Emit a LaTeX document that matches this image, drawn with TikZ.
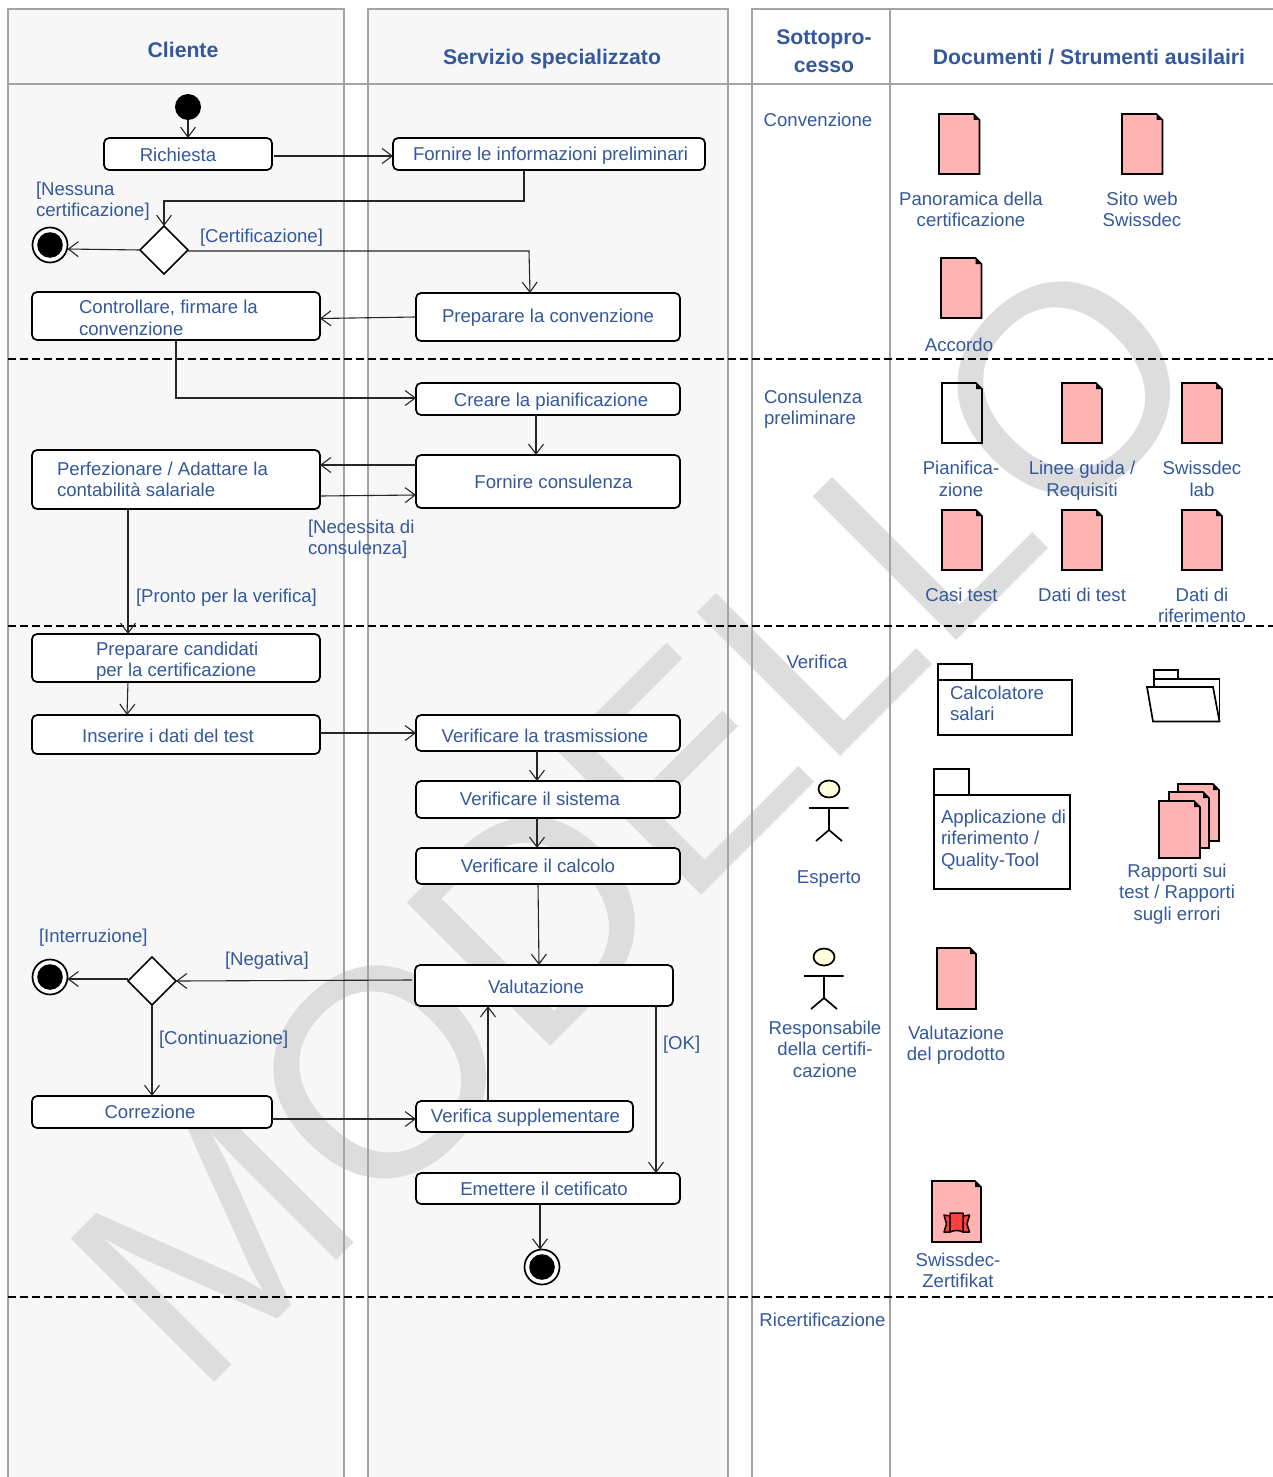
\documentclass[tikz,border=0pt]{standalone}
\usepackage{fontspec}
\setmainfont{Liberation Sans}
\usetikzlibrary{arrows.meta,shapes.geometric}
\definecolor{lanebg}{HTML}{F7F7F7}
\definecolor{laneline}{HTML}{A3A3A3}
\definecolor{wmgray}{HTML}{DDDDDD}
\definecolor{txtblue}{HTML}{34589C}
\definecolor{docpink}{HTML}{FFB3B3}
\definecolor{actorhead}{HTML}{FFFFDD}
\definecolor{ribbonred}{HTML}{FF4040}
% text placed with its first baseline at an exact offset from the node centre
\newcommand\placed[4]{\raisebox{#2pt}[0pt][0pt]{\makebox[0pt][l]{\hspace{#1pt}\makebox[0pt][#3]{\begin{tabular}[t]{@{}#3@{}}#4\end{tabular}}}}}
\newcommand\actbox[9]{%
  \pgfmathsetmacro\bcx{(#2+#4)/2}\pgfmathsetmacro\bcy{(#3+#5)/2}%
  \pgfmathsetmacro\bw{#4-#2}\pgfmathsetmacro\bh{#5-#3}%
  \pgfmathsetmacro\bdx{#6-\bcx}\pgfmathsetmacro\bdy{\bcy-#7}%
  \node[activity,minimum width=\bw pt,minimum height=\bh pt] (#1) at (\bcx,\bcy) {\placed{\bdx}{\bdy}{#8}{#9}};}
\newcommand\txt[5]{\node[label text] (#1) at (#2,#3) {\placed{0}{0}{#4}{#5}};}
\newcommand\hdr[5]{\node[label text,header text] (#1) at (#2,#3) {\placed{0}{0}{#4}{#5}};}
\newcommand\docicon[6][docpink]{% x1 y1 x2 y2
  \draw[icon,fill=#1] (#2,#3) -- (#4-6,#3) -- (#4,#3+6) -- (#4,#5) -- (#2,#5) -- cycle;
  \fill (#4-6,#3) -- (#4,#3+6) -- (#4-6,#3+6) -- cycle;\path (#2,#3) coordinate (#6);}
\newcommand\actor[2]{%
  \draw[icon] (#1,#2+19) -- (#1,#2+41) (#1-20,#2+19) -- (#1+19.5,#2+19)
     (#1-13,#2+52) -- (#1,#2+41) -- (#1+13,#2+52);
  \draw[icon,fill=actorhead] (#1,#2) ellipse [x radius=10.5,y radius=8.5];}
\tikzset{
  x=1pt,y=-1pt,
  lane/.style={fill=lanebg,draw=none},
  laneborder/.style={draw=laneline,line width=1.3pt},
  phase/.style={draw=black,line width=1.7pt,dash pattern=on 7.5pt off 4.5pt},
  activity/.style={draw=black,fill=white,line width=1.7pt,rounded corners=5pt,inner sep=0pt,outer sep=0pt,text=txtblue,font=\fontsize{18.6}{21.6}\selectfont},
  label text/.style={inner sep=0pt,outer sep=0pt,text=txtblue,font=\fontsize{18.6}{21.6}\selectfont},
  header text/.style={font=\fontsize{21.2}{28}\selectfont\bfseries},
  decision/.style={diamond,draw=black,fill=white,line width=1.7pt,inner sep=0pt,outer sep=0pt,aspect=1},
  initial dot/.style={circle,fill=black,draw=none,minimum size=26pt,inner sep=0pt,outer sep=0pt},
  final dot/.style={circle,draw=black,fill=white,line width=1.7pt,minimum size=35pt,inner sep=0pt,outer sep=0pt,path picture={\fill[black] (path picture bounding box.center) circle (12.8pt);}},
  flow/.style={draw=black!85,line width=1.1pt,-{Straight Barb[length=10pt,width=15pt,line width=1.1pt]}},
  icon/.style={draw=black,line width=1.7pt,line join=miter},
  ribbon/.style={draw=black,line width=1.5pt,fill=ribbonred,line join=round},
  watermark/.style={rotate=45,anchor=base west,inner sep=0pt,text=wmgray,font=\fontsize{295}{295}\selectfont},
}
\begin{document}
\begin{tikzpicture}
\useasboundingbox (0,0) rectangle (1273,1477);
\fill[white] (0,0) rectangle (1273,1477);
% lanes
\path[lane] (8,9) rectangle (344,1477);
\path[lane] (368,9) rectangle (728,1477);
% watermark
\node[watermark] (wm) at (197.6,1399.4) {MODELLO};
% lane borders
\draw[laneborder] (8,1477) -- (8,9) -- (344,9) -- (344,1477);
\draw[laneborder] (368,1477) -- (368,9) -- (728,9) -- (728,1477);
\draw[laneborder] (752,1477) -- (752,9) -- (1273,9);
\draw[laneborder] (890,9) -- (890,1477);
\draw[laneborder] (8,84) -- (1273,84);
% phases
\draw[phase] (8,359) -- (1273,359);
\draw[phase] (8,626) -- (1273,626);
\draw[phase] (8,1297) -- (1273,1297);
% headers
\hdr{hCliente}{183}{58}{c}{Cliente}
\hdr{hServizio}{552}{65}{c}{Servizio specializzato}
\hdr{hSotto}{824}{45}{c}{Sottopro-\\cesso}
\hdr{hDoc}{1089}{65}{c}{Documenti / Strumenti ausilairi}
% activities
\actbox{rich}{104}{138}{272}{170}{178}{161}{c}{Richiesta}
\actbox{forn}{393}{138}{705}{170}{550.5}{160}{c}{Fornire le informazioni preliminari}
\actbox{contr}{32}{292}{320}{340}{79}{313.5}{l}{Controllare, firmare la\\convenzione}
\actbox{prep}{416}{293}{680}{341}{548}{322}{c}{Preparare la convenzione}
\actbox{crea}{416}{383}{680}{415}{551}{406}{c}{Creare la pianificazione}
\actbox{cons}{416}{455}{680}{508}{553.5}{488}{c}{Fornire consulenza}
\actbox{perf}{32}{450}{320}{509}{57}{475}{l}{Perfezionare / Adattare la\\contabilità salariale}
\actbox{cand}{32}{634}{320}{682}{96}{655}{l}{Preparare candidati\\per la certificazione}
\actbox{ins}{32}{715}{320}{754}{168}{742}{c}{Inserire i dati del test}
\actbox{vtra}{416}{715}{680}{751}{545}{742}{c}{Verificare la trasmissione}
\actbox{vsis}{416}{781}{680}{818}{540}{805}{c}{Verificare il sistema}
\actbox{vcal}{416}{848}{680}{884}{538}{872}{c}{Verificare il calcolo}
\actbox{val}{415}{965}{673}{1006}{536}{993}{c}{Valutazione}
\actbox{corr}{32}{1096}{272}{1128}{150}{1118}{c}{Correzione}
\actbox{vsup}{416}{1101}{633}{1132}{525.5}{1122}{c}{Verifica supplementare}
\actbox{emet}{416}{1173}{680}{1204}{544}{1195}{c}{Emettere il cetificato}
% control nodes
\node[initial dot] (init) at (188,107) {};
\node[decision,minimum size=48pt] (d1) at (164,250) {};
\node[decision,minimum size=48pt] (d2) at (152,981) {};
\node[final dot] (f1) at (50,245) {};
\node[final dot] (f2) at (50,977) {};
\node[final dot] (f3) at (542,1267) {};
% connectors
\draw[flow] (init.south) -- (rich.north);
\draw[flow] ([xshift=2pt]rich.east |- 0,156) -- (forn.west |- 0,156);
\draw[flow] (524,0 |- forn.south) -- (524,201) -- (d1.north |- 0,201) -- (d1.north);
\draw[flow] (d1.west |- 0,250) -- (f1.east |- 0,249);
\draw[flow] (d1.east |- 0,251) -- (529,251) -- (530,0 |- prep.north);
\draw[flow] (prep.west |- 0,317) -- (contr.east |- 0,318.5);
\draw[flow] (176,0 |- contr.south) -- (176,398) -- (crea.west |- 0,398);
\draw[flow] (536,0 |- crea.south) -- (536,0 |- cons.north);
\draw[flow] (cons.west |- 0,465) -- (perf.east |- 0,465);
\draw[flow] (perf.east |- 0,496) -- (cons.west |- 0,495);
\draw[flow] (128,0 |- perf.south) -- (128,0 |- cand.north);
\draw[flow] (128,0 |- cand.south) -- (127,0 |- ins.north);
\draw[flow] (ins.east |- 0,733) -- (vtra.west |- 0,733);
\draw[flow] (537,0 |- vtra.south) -- (537,0 |- vsis.north);
\draw[flow] (537,0 |- vsis.south) -- (537,0 |- vcal.north);
\draw[flow] (538,0 |- vcal.south) -- (539,0 |- val.north);
\draw[flow] ([xshift=-3pt]val.west |- 0,980) -- (d2.east);
\draw[flow] (d2.west |- 0,979) -- (f2.east |- 0,979);
\draw[flow] (d2.south) -- (d2.south |- corr.north);
\draw[flow] (corr.east |- 0,1119) -- (vsup.west |- 0,1119);
\draw[flow] (488,0 |- vsup.north) -- (488,0 |- val.south);
\draw[flow] (656,0 |- val.south) -- (656,0 |- emet.north);
\draw[flow] (540,0 |- emet.south) -- (540,0 |- f3.north);
% guard labels
\txt{gNess}{36}{195}{l}{[Nessuna\\certificazione]}
\txt{gCert}{200}{242}{l}{[Certificazione]}
\txt{gNec}{308}{533}{l}{[Necessita di\\consulenza]}
\txt{gPronto}{136}{602}{l}{[Pronto per la verifica]}
\txt{gInt}{39}{942}{l}{[Interruzione]}
\txt{gNeg}{225}{965}{l}{[Negativa]}
\txt{gCont}{159}{1044}{l}{[Continuazione]}
\txt{gOk}{663}{1049}{l}{[OK]}
% sub-process column
\txt{sConv}{818}{127}{c}{Convenzione}
\txt{sCons}{764}{403}{l}{Consulenza\\preliminare}
\txt{sVer}{817}{668}{c}{Verifica}
\txt{sEsp}{829}{883}{c}{Esperto}
\txt{sResp}{825}{1034}{c}{Responsabile\\della certifi-\\cazione}
\txt{sRic}{822.5}{1326}{c}{Ricertificazione}
\actor{829}{789}
\actor{824}{957}
% documents
\docicon{939}{114}{979.5}{174}{dPan}
\docicon{1122}{114}{1162.5}{174}{dSito}
\docicon{941}{258}{981.5}{318}{dAcc}
\docicon[none]{942}{383}{982}{443}{dPia}
\docicon{1062}{383}{1102}{443}{dLin}
\docicon{1182}{383}{1222}{443}{dLab}
\docicon{942}{510}{982}{570}{dCas}
\docicon{1062}{510}{1102}{570}{dTes}
\docicon{1182}{510}{1222}{570}{dRif}
\docicon{1178}{784}{1219}{841}{dRap3}
\docicon{1169}{792}{1209}{848}{dRap2}
\docicon{1159}{801}{1200}{858}{dRap1}
\docicon{937}{948}{976}{1009}{dVal}
\docicon{932}{1181}{981}{1242}{dCer}
% ribbon
\draw[ribbon] (950,1216) -- (944,1215) -- (946.5,1224) -- (944,1232) -- (950,1232) -- cycle;
\draw[ribbon] (963,1216) -- (969.5,1215) -- (967,1224) -- (969.5,1232) -- (963,1232) -- cycle;
\draw[ribbon] (950,1232) -- (950,1213) -- (963,1213) -- (963,1232) .. controls (959,1230) and (954,1230) .. (950,1232) -- cycle;
% packages and folder
\draw[icon,fill=white] (938,680) rectangle (972,664);
\draw[icon,fill=white] (938,680) rectangle (1072,735);
\draw[icon,fill=white] (934,795) rectangle (969,769);
\draw[icon,fill=white] (934,795) rectangle (1070,889);
\draw[icon,fill=white] (1154,679) rectangle (1178,670);
\draw[icon,fill=white] (1154,679) rectangle (1219.5,721.5);
\draw[icon,fill=white] (1147,687) -- (1213,687) -- (1219.5,721.5) -- (1153,721.5) -- cycle;
\txt{tCalc}{950}{699}{l}{Calcolatore\\salari}
\txt{tApp}{941}{823}{l}{Applicazione di\\riferimento /\\Quality-Tool}
% document labels
\txt{tPan}{971}{205}{c}{Panoramica della\\certificazione}
\txt{tSito}{1142}{205}{c}{Sito web\\Swissdec}
\txt{tAcc}{959}{351}{c}{Accordo}
\txt{tPia}{961}{474.5}{c}{Pianifica-\\zione}
\txt{tLin}{1082}{474.5}{c}{Linee guida /\\Requisiti}
\txt{tLab}{1202}{474.5}{c}{Swissdec\\lab}
\txt{tCas}{961.5}{601}{c}{Casi test}
\txt{tTes}{1082}{601}{c}{Dati di test}
\txt{tRif}{1202}{601}{c}{Dati di\\riferimento}
\txt{tRap}{1177}{877}{c}{Rapporti sui\\test / Rapporti\\sugli errori}
\txt{tVal}{956}{1039}{c}{Valutazione\\del prodotto}
\txt{tCer}{958}{1266}{c}{Swissdec-\\Zertifikat}
\end{tikzpicture}
\end{document}
